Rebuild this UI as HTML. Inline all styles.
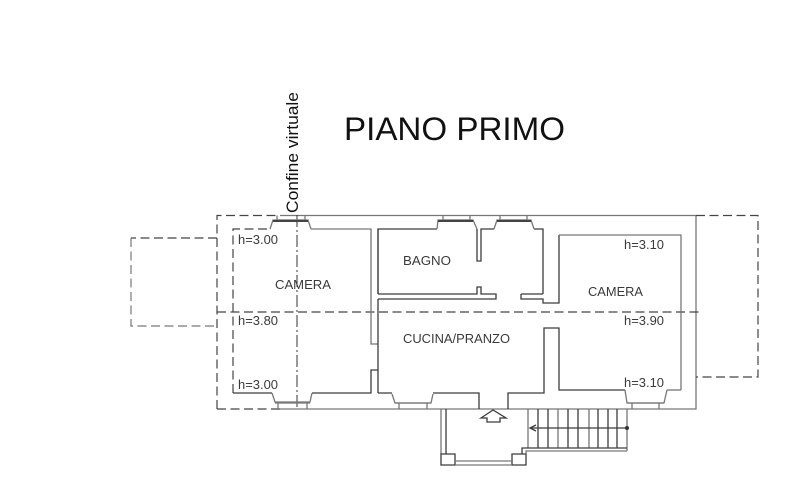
<!DOCTYPE html>
<html><head><meta charset="utf-8"><style>
html,body{margin:0;padding:0;background:#fff}
svg{display:block}
text{font-family:"Liberation Sans",sans-serif;fill:#3a3a3a}
.w{fill:none;stroke:#3c3c3c;stroke-width:1.3}
.g{fill:none;stroke:#777;stroke-width:1.3}
.d{fill:none;stroke:#444;stroke-width:1.2;stroke-dasharray:9 4.5}
.dl{fill:none;stroke:#777;stroke-width:1.2;stroke-dasharray:9 4.5}
.t{font-size:13px}
</style></head><body>
<svg width="800" height="499" viewBox="0 0 800 499" xmlns="http://www.w3.org/2000/svg">
<rect width="800" height="499" fill="#fff"/>
<!-- outer walls -->
<path class="d" d="M217 409V215.5H280"/>
<path class="d" d="M217 409H280"/>
<path class="g" d="M280 215.5H696V409H280"/>
<!-- balconies -->
<path class="d" d="M217 238H131"/>
<path class="dl" d="M131 238V326H217"/>
<path class="d" d="M696 215.5H758V377H696"/>
<!-- floor dashed line -->
<path class="d" d="M217 312H702"/>
<!-- dash-dot boundary -->
<path fill="none" stroke="#333" stroke-width="1" stroke-dasharray="12 3 2 3" d="M297 215V409"/>
<!-- left room -->
<path class="d" d="M233 393V229H270"/>
<path class="w" d="M233 393H272M312 393H371V370H378"/>
<path class="g" d="M311 229H371V344H378"/>
<path class="g" d="M378 229V294"/>
<path class="w" d="M378 299V393"/>
<!-- bagno -->
<path class="w" d="M378 294V229H437M477 229V261H481V229H494M534 229H543V294"/>
<path class="w" d="M378 294H477V287H481V294H496V299H378"/>
<path class="w" d="M521 294H543M521 294V299H543V303H559V235"/>
<path class="g" d="M559 235H681V390"/>
<!-- kitchen -->
<path class="w" d="M378 393H392M433 393H479V409M508 409V393H544V328H559V390H625"/>
<path class="g" d="M667 390H681"/>
<!-- top windows -->
<g class="g">
<path d="M277 215.5V220H305V215.5"/><path d="M270 229L273 220H308L311 229"/>
<path d="M443 215.5V220H470V215.5"/><path d="M437 229L438 220H473L477 229"/>
<path d="M500 215.5V220H527V215.5"/><path d="M494 229L497 220H531L534 229"/>
</g>
<path stroke="#444" stroke-width="2" d="M273 221H308M438 221H473M497 221H531"/>
<!-- bottom windows -->
<g class="g">
<path d="M272 393L275 402H310L312 393"/><path d="M278 403V409M307 403V409"/><path d="M275 403H310"/>
<path d="M392 394L395 403H431L433 394"/><path d="M399 403V409M427 403V409"/><path d="M395 403H431"/>
<path d="M625 390L627 403H664L667 390"/><path d="M632 403V409M659 403V409"/><path d="M627 403H664"/>
</g>
<!-- entrance arrow -->
<path class="w" d="M481 418L493 410L506 418H500V422H487V418Z"/>
<!-- porch -->
<path class="g" d="M441 409V454"/><path class="w" d="M446 409V454"/>
<path class="w" d="M441 454H455V465H441ZM512 454H526V465H512Z"/>
<path class="g" d="M455 461H512M455 465H512"/>
<!-- stairs -->
<path class="g" d="M528 409V448"/>
<path class="w" d="M538 409V448M548 409V448M568 409V448M578 409V448M598 409V448M608 409V448M617 409V448"/>
<path class="g" d="M558 409V448M589 409V448M627 409V451"/>
<path class="w" d="M522 454V448H627"/>
<path class="g" d="M526 454V451H627"/>
<path class="w" d="M530 428H627"/>
<path class="w" d="M536 425L530 428L536 431"/>
<circle cx="627" cy="428" r="2" fill="#333"/>
<!-- labels -->
<text x="344" y="140" font-size="32" textLength="221" lengthAdjust="spacingAndGlyphs" style="fill:#111">PIANO PRIMO</text>
<text transform="translate(298 213) rotate(-90)" font-size="16.5" textLength="121" lengthAdjust="spacingAndGlyphs" style="fill:#111">Confine virtuale</text>
<text class="t" x="238" y="244" textLength="40" lengthAdjust="spacingAndGlyphs">h=3.00</text>
<text class="t" x="238" y="325" textLength="40" lengthAdjust="spacingAndGlyphs">h=3.80</text>
<text class="t" x="238" y="389" textLength="40" lengthAdjust="spacingAndGlyphs">h=3.00</text>
<text class="t" x="275" y="289" textLength="56" lengthAdjust="spacingAndGlyphs">CAMERA</text>
<text class="t" x="403" y="265" textLength="48" lengthAdjust="spacingAndGlyphs">BAGNO</text>
<text class="t" x="403" y="343" textLength="107" lengthAdjust="spacingAndGlyphs">CUCINA/PRANZO</text>
<text class="t" x="588" y="296" textLength="55" lengthAdjust="spacingAndGlyphs">CAMERA</text>
<text class="t" x="624" y="249" textLength="40" lengthAdjust="spacingAndGlyphs">h=3.10</text>
<text class="t" x="624" y="325" textLength="40" lengthAdjust="spacingAndGlyphs">h=3.90</text>
<text class="t" x="624" y="387" textLength="40" lengthAdjust="spacingAndGlyphs">h=3.10</text>
</svg>
</body></html>
